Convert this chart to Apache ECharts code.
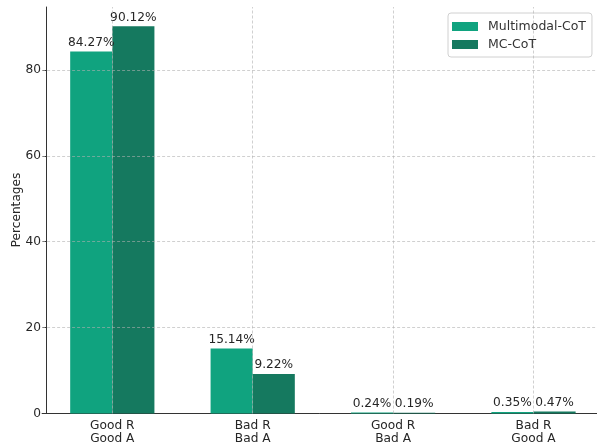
<!DOCTYPE html>
<html>
<head>
<meta charset="utf-8">
<script src="https://cdn.jsdelivr.net/npm/echarts@6/dist/echarts.min.js"></script>
<style>
html,body{margin:0;padding:0;background:#fff;}
#chart{width:597px;height:443px;}
</style>
</head>
<body>
<div id="chart"></div>
<script>
const categories = ['Good R\nGood A', 'Bad R\nBad A', 'Good R\nBad A', 'Bad R\nGood A'];
const seriesNames = ['Multimodal-CoT', 'MC-CoT'];
const multimodalCoT = [84.27, 15.14, 0.24, 0.35];
const mcCoT = [90.12, 9.22, 0.19, 0.47];
const yTicks = [0, 20, 40, 60, 80];
const yAxisTitle = 'Percentages';

const FONT = 'DejaVu Sans';
const FS = 12.2;
const gridLineStyle = { color: '#b0b0b0', width: 0.8, type: [3, 2], opacity: 0.75 };

const chart = echarts.init(document.getElementById('chart'), null, { renderer: 'canvas' });
chart.setOption({
  animation: false,
  textStyle: { fontFamily: FONT },
  color: ['#10a37f', '#15795f'],
  grid: { left: 42.1, right: -6.7, top: 7, bottom: 29.5, containLabel: false, outerBoundsMode: 'none' },
  graphic: [{
    type: 'text', x: 16.5, y: 210, rotation: Math.PI / 2, silent: true,
    style: { text: yAxisTitle, fill: '#262626', font: FS + 'px "DejaVu Sans"', align: 'center', verticalAlign: 'middle' }
  }],
  legend: {
    orient: 'vertical',
    left: 448, top: 13,
    data: seriesNames,
    icon: 'rect',
    itemWidth: 26, itemHeight: 9,
    itemGap: 3,
    padding: [6, 6, 5, 4],
    backgroundColor: 'rgba(255,255,255,0.9)',
    borderColor: '#d0d0d0', borderWidth: 1, borderRadius: 3,
    textStyle: { fontFamily: FONT, fontSize: 12.5, color: '#333', padding: [0, 0, 0, 5], lineHeight: 15 }
  },
  xAxis: {
    type: 'category',
    data: categories,
    boundaryGap: true,
    axisLine: { show: true, lineStyle: { color: '#333', width: 1 } },
    axisTick: { show: false },
    axisLabel: { fontFamily: FONT, fontSize: FS, color: '#262626', lineHeight: 13.5, margin: 5.5, interval: 0 },
    splitLine: { show: false }
  },
  yAxis: {
    type: 'value',
    min: 0, max: 94.63,
    offset: -3.9,
    axisLine: { show: true, lineStyle: { color: '#333', width: 1 } },
    axisTick: { show: true, customValues: yTicks, length: 3.5, lineStyle: { color: '#333' } },
    axisLabel: { customValues: yTicks, fontFamily: FONT, fontSize: FS, color: '#262626', margin: 5 },
    splitLine: { show: false }
  },
  series: [
    {
      name: seriesNames[0], type: 'bar', data: multimodalCoT,
      barWidth: '30%', barGap: '0%',
      label: { show: true, position: 'top', distance: 3, fontFamily: FONT, fontSize: FS, color: '#262626',
               formatter: p => p.value.toFixed(2) + '%' }
    },
    {
      name: seriesNames[1], type: 'bar', data: mcCoT,
      barWidth: '30%', barGap: '0%',
      label: { show: true, position: 'top', distance: 3, fontFamily: FONT, fontSize: FS, color: '#262626',
               formatter: p => p.value.toFixed(2) + '%' }
    },
    {
      name: 'grid', type: 'line', data: [], silent: true, z: 5,
      markLine: {
        silent: true, symbol: 'none', label: { show: false },
        lineStyle: gridLineStyle,
        data: yTicks.slice(1).map(v => ({ yAxis: v })).concat(categories.map(c => ({ xAxis: c })))
      }
    }
  ]
});
</script>
</body>
</html>
